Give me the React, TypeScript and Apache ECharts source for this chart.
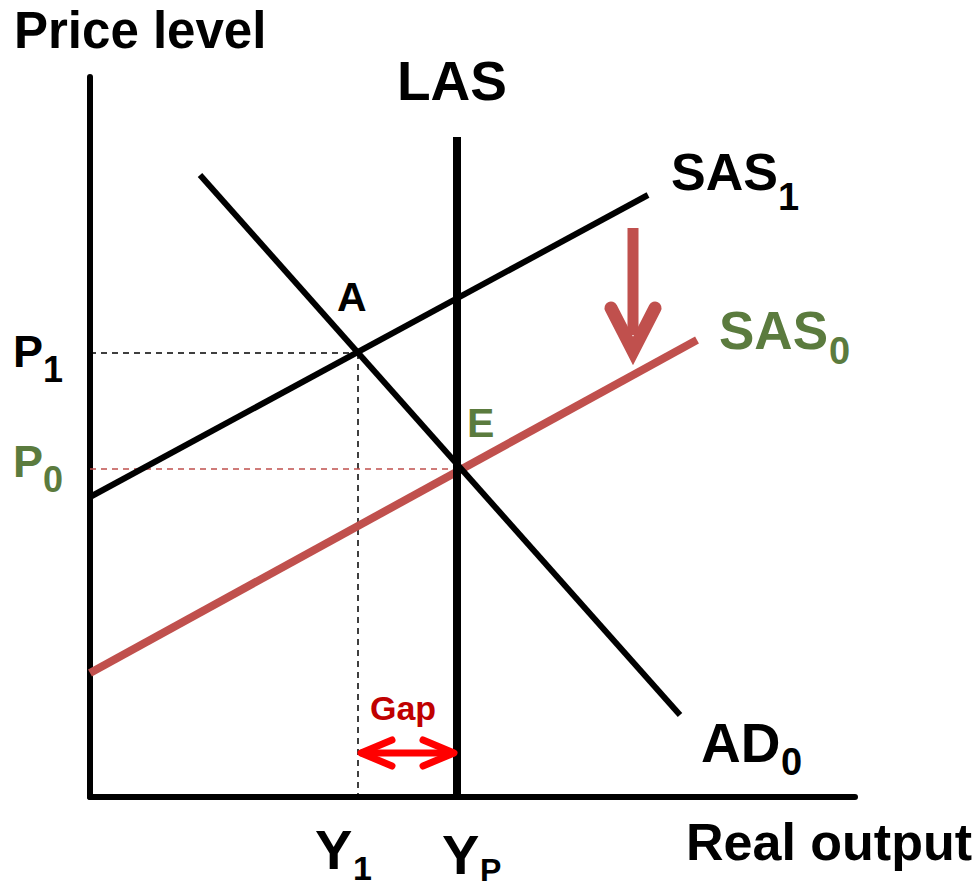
import React, { useEffect, useRef } from "react";
import * as echarts from "echarts";

// Diagram coordinates: x = real output, y = price level (arbitrary units)
const X_MAX = 765;
const Y_MAX = 720;

const ad0: number[][] = [[110, 622], [590, 82]];
const sas1: number[][] = [[0, 300], [558, 602]];
const sas0: number[][] = [[0, 124], [607, 457]];
const las: number[][] = [[367, 0], [367, 660]];

const pointA: number[] = [268, 444];
const pointE: number[] = [367, 328];

const p1Dash: number[][] = [[0, 444], [268, 444]];
const y1Dash: number[][] = [[268, 444], [268, 0]];
const p0Dash: number[][] = [[0, 328], [367, 328]];

const shiftShaft: number[][] = [[543, 569], [543, 462]];
const shiftHead: number[][] = [[521, 489], [543, 446], [565, 489]];

const gapShaft: number[][] = [[272, 44], [363, 44]];
const gapHeadL: number[][] = [[302, 57], [271, 44], [302, 31]];
const gapHeadR: number[][] = [[333, 57], [364, 44], [333, 31]];

const RED = "#c0504d";
const GREEN = "#5b7b3e";
const FONT = "'Liberation Sans', Arial, sans-serif";

function lineSeries(data: number[][], color: string, width: number, extra: any = {}) {
  return {
    type: "line",
    data,
    symbol: "none",
    silent: true,
    lineStyle: { color, width, cap: "butt", join: "miter", ...extra },
    z: 2,
  };
}

function txt(text: string, x: number, y: number, size: number, color = "#000") {
  return {
    type: "text",
    x,
    y,
    silent: true,
    style: {
      text,
      fill: color,
      font: `bold ${size}px ${FONT}`,
      textAlign: "left",
      textVerticalAlign: "middle",
    },
  };
}

export default function App() {
  const ref = useRef<HTMLDivElement>(null);
  useEffect(() => {
    if (!ref.current) return;
    const chart = echarts.init(ref.current, undefined, { renderer: "svg" });
    chart.setOption({
      animation: false,
      backgroundColor: "#ffffff",
      grid: { left: 90, right: 125, top: 77, bottom: 90 },
      xAxis: {
        type: "value",
        min: 0,
        max: X_MAX,
        axisLine: { show: true, onZero: false, lineStyle: { color: "#000", width: 6 } },
        axisTick: { show: false },
        axisLabel: { show: false },
        splitLine: { show: false },
      },
      yAxis: {
        type: "value",
        min: 0,
        max: Y_MAX,
        axisLine: { show: true, onZero: false, lineStyle: { color: "#000", width: 6 } },
        axisTick: { show: false },
        axisLabel: { show: false },
        splitLine: { show: false },
      },
      series: [
        lineSeries(p1Dash, "#000", 1.5, { type: [6, 5] }),
        lineSeries(y1Dash, "#000", 1.5, { type: [6, 5] }),
        lineSeries(p0Dash, RED, 1.5, { type: [6, 5] }),
        lineSeries(sas0, RED, 8),
        lineSeries(sas1, "#000", 6),
        lineSeries(ad0, "#000", 6),
        lineSeries(las, "#000", 8),
        lineSeries(shiftShaft, RED, 11),
        lineSeries(shiftHead, RED, 13, { cap: "round", join: "miter" }),
        lineSeries(gapShaft, "#ff0000", 7, { cap: "round" }),
        lineSeries(gapHeadL, "#ff0000", 7, { cap: "round", join: "round" }),
        lineSeries(gapHeadR, "#ff0000", 7, { cap: "round", join: "round" }),
        {
          type: "scatter",
          data: [pointA, pointE],
          symbolSize: 0,
          silent: true,
        },
      ],
      graphic: [
        txt("Price level", 14, 30, 51),
        txt("LAS", 397, 81, 55),
        txt("SAS", 671, 172, 52),
        txt("1", 778, 197, 38),
        txt("SAS", 719, 330, 53, GREEN),
        txt("0", 829, 351, 38, GREEN),
        txt("A", 337, 297, 41),
        txt("E", 467, 423, 41, GREEN),
        txt("P", 13, 351, 45),
        txt("1", 43, 369, 36),
        txt("P", 13, 461, 45, GREEN),
        txt("0", 43, 479, 36, GREEN),
        txt("Y", 315, 849, 56),
        txt("1", 353, 868, 34),
        txt("Y", 442, 854, 56),
        txt("P", 480, 870, 32),
        txt("AD", 701, 743, 55),
        txt("0", 781, 762, 38),
        txt("Real output", 686, 842, 52),
        txt("Gap", 370, 708, 34, "#c00000"),
      ],
    });
    return () => chart.dispose();
  }, []);
  return (
    <div
      ref={ref}
      style={{ position: "fixed", left: 0, top: 0, width: 980, height: 887, background: "#fff" }}
    />
  );
}
